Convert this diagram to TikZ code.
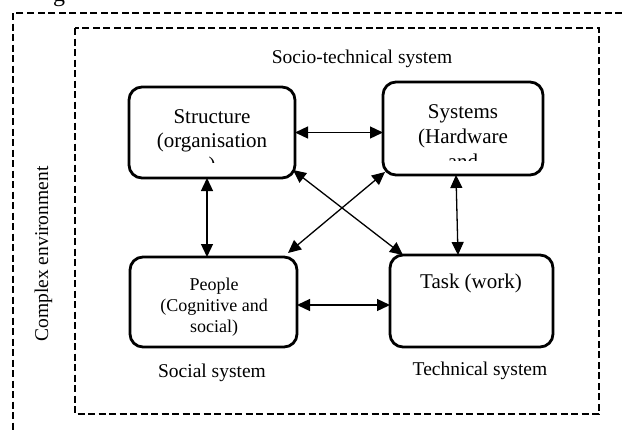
\documentclass[tikz,border=0pt]{standalone}
\usepackage{fontspec}
\setmainfont{Liberation Serif}
\usetikzlibrary{arrows.meta,calc}
\begin{document}
\begin{tikzpicture}[x=1pt,y=-1pt,
  frame/.style={draw=black, line width=2.6pt, dash pattern=on 7pt off 3.5pt},
  box/.style={rectangle, draw=black, line width=2.8pt, rounded corners=13pt, inner sep=0pt, outer sep=0pt},
  arr/.style={line width=1.3pt, {Triangle[length=13pt,width=12pt]}-{Triangle[length=13pt,width=12pt]}},
  big/.style={font=\fontsize{21}{24}\selectfont, inner sep=0pt},
  mid/.style={font=\fontsize{19.5}{22}\selectfont, inner sep=0pt},
  small/.style={font=\fontsize{18}{20}\selectfont, inner sep=0pt},
]
\useasboundingbox (0,0) rectangle (622,432);
\fill[white] (0,0) rectangle (622,432);

% caption fragment
\node[font=\fontsize{24}{28}\selectfont, inner sep=0pt, anchor=base] (capg) at (59,1) {g};

% frames
\draw[frame] (622,13) -- (13,13) -- (13,432);
\draw[frame] (75,28) rectangle (599,414);

% boxes
\node[box, minimum width=166pt, minimum height=91pt] (struct) at (212,132.5) {};
\node[box, minimum width=160pt, minimum height=93pt] (syst) at (463,128.5) {};
\node[box, minimum width=167pt, minimum height=90pt] (people) at (213.5,302) {};
\node[box, minimum width=163pt, minimum height=92pt] (task) at (471.5,301) {};

% texts in boxes
\begin{scope}
\clip (struct.north west) rectangle ([shift={(0,-16)}]struct.south east);
\node[big, anchor=base] (structA) at (212,123) {Structure};
\node[big, anchor=base] (structB) at (212,147) {(organisation};
\node[big, anchor=base] (structC) at (212,171) {)};
\end{scope}
\begin{scope}
\clip (syst.north west) rectangle ([shift={(0,-15)}]syst.south east);
\node[big, anchor=base] (systA) at (463,118) {Systems};
\node[big, anchor=base] (systB) at (463,143) {(Hardware};
\node[big, anchor=base] (systC) at (463,168) {and};
\end{scope}
\node[big, anchor=base] (taskA) at (471,288) {Task (work)};
\node[small, anchor=base] (peopleA) at (214,290) {People};
\node[small, anchor=base] (peopleB) at (214,311) {(Cognitive and};
\node[small, anchor=base] (peopleC) at (214,332) {social)};

% labels
\node[mid, anchor=base] (stlabel) at (362,63) {Socio-technical system};
\node[mid, anchor=base] (social) at (212,377) {Social system};
\node[mid, anchor=base] (technical) at (480,375) {Technical system};
\node[mid, anchor=base, rotate=90] (complex) at (48,254) {Complex environment};

% connectors
\draw[arr] (struct.east) -- (struct.east -| syst.west);
\draw[arr] ([shift={(-5,0)}]struct.south) -- ([shift={(-5,0)}]struct.south |- people.north);
\draw[arr] ([shift={(-7,0)}]syst.south) -- ([shift={(-13.5,0)}]task.north);
\draw[arr] ([shift={(-2,-8)}]struct.south east) -- ([shift={(13,0)}]task.north west);
\draw[arr] ([shift={(2,-3)}]syst.south west) -- ([shift={(-9,-4)}]people.north east);
\draw[arr] ([shift={(0,3)}]people.east) -- ([shift={(0,3)}]people.east -| task.west);
\end{tikzpicture}
\end{document}
